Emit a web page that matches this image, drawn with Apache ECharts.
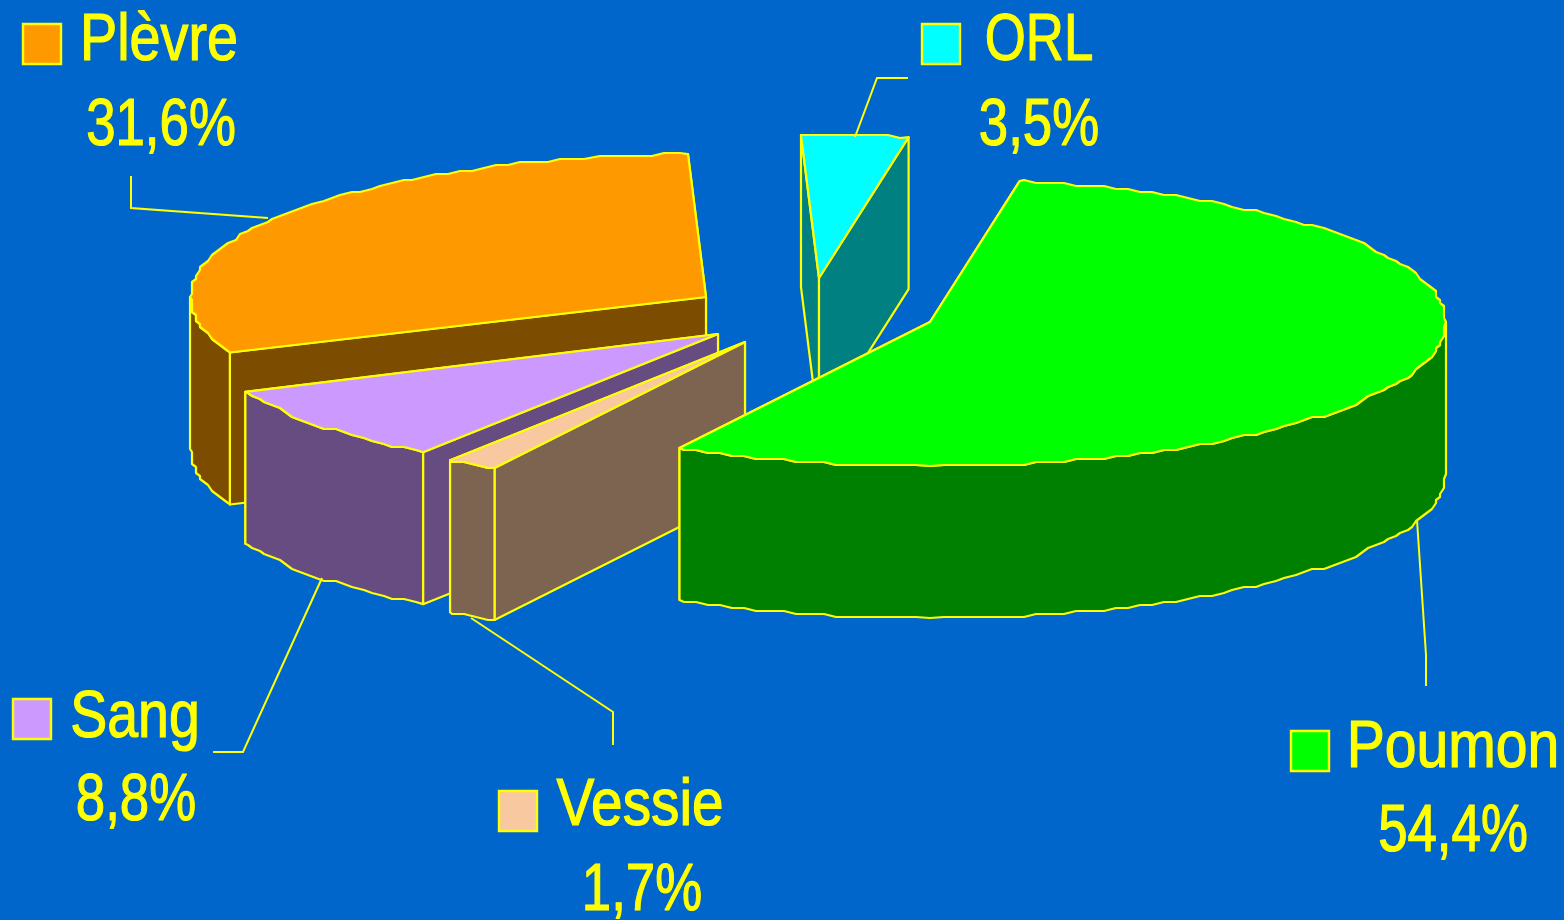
<!DOCTYPE html>
<html><head><meta charset="utf-8">
<style>html,body{margin:0;padding:0;background:#0066CC}#c{width:1564px;height:920px}</style>
<script src="https://cdn.jsdelivr.net/npm/echarts@6/dist/echarts.min.js"></script>
</head><body><div id="c"></div>
<script>
// Data, in clockwise pie order
const categories = ['Poumon','Vessie','Sang','Plèvre','ORL'];
const values = [54.4,1.7,8.8,31.6,3.5];
// Styles
const topColors = ['#00FF00','#F8C8A0','#CC99FF','#FF9900','#00FFFF'];
const sideColors = ['#008000','#7C6450','#664C80','#7C4C00','#008080'];
const lineColor = '#FFFF00';
// Layout: exploded slice apexes, pie projection, drawing order (back to front)
const apexes = [[930,322],[745,342],[718,334],[706,297],[819,278]];
const drawOrder = [3,4,2,1,0];
const radiusX = 516, radiusYFront = 144, radiusYBack = 143, depth = 152, firstAngle = 11;
const rimGrainX = 4, rimGrainY = 3, rimStep = 1.5; // the reference's rim is drawn on a coarse grid
// Small per-slice skew of the reference's drawn edges (degrees): [start,end]
const edgeSkew = [[-1,2.2],[2.2,1.9],[1.9,1.7],[2.7,-0.4],[-0.4,-1]];
// Label layout
const swatches = [[1291,731],[499,791],[13,699],[23,24],[922,24]];
const labelX = [1453,640,135,159,1039];
const pctX = [1453,642,136,161,1039];
const nameY = [749,807,719,42,42];
const pctY = [833,892,802,127,127];
const nameScale = [0.865,0.86,0.84,0.845,0.80];
const pctScale = 0.8;
const leaders = [
  [[1426,686],[1426,655],[1417,520]],
  [[613,745],[613,712],[471,618]],
  [[213,752],[243,752],[322,578]],
  [[131,176],[131,208],[268,218]],
  [[908,78],[877,78],[855,137]]
];
const font = '"Liberation Sans",sans-serif';

const total = values.reduce((a,b)=>a+b,0);
const sliceAngles = []; let run = firstAngle;
values.forEach((v,i)=>{ const e = run + v/total*360;
  sliceAngles.push([run+edgeSkew[i][0], e+edgeSkew[i][1]]); run = e; });

function rim(c,deg){ const t=deg*Math.PI/180, k=Math.cos(t);
  return [c[0]+radiusX*Math.sin(t), c[1]-(k>0?radiusYBack:radiusYFront)*k]; }
// Rim points sit on fixed angles and on a coarse grid, so top and wall rims coincide;
// the left and right extremes stay exact
function arc(c,a,b,dz){ const pts=[rim(c,a)];
  for(let d=Math.ceil(a/rimStep+0.01)*rimStep; d<b; d+=rimStep){ const p=rim(c,d);
    pts.push(d%90===0 ? p : [Math.round(p[0]/rimGrainX)*rimGrainX, Math.round(p[1]/rimGrainY)*rimGrainY]); }
  pts.push(rim(c,b));
  return pts.map(p=>[p[0],p[1]+dz]); }
function poly(points,fill){ return {type:'polygon',shape:{points},
  style:{fill,stroke:lineColor,lineWidth:2.2,lineJoin:'round'}}; }

function renderSlice(params,api){
  const i = api.value(1), c = apexes[i];
  const a = sliceAngles[i][0], b = sliceAngles[i][1];
  const side = sideColors[i], kids = [];
  const wall = p => poly([c,p,[p[0],p[1]+depth],[c[0],c[1]+depth]],side);
  [rim(c,a),rim(c,b)].sort((p,q)=>p[1]-q[1]).forEach(p=>kids.push(wall(p)));
  const fa=Math.max(a,90), fb=Math.min(b,270);
  if(fb>fa){ const top=arc(c,fa,fb,0), bot=arc(c,fa,fb,depth).reverse();
    kids.push(poly(top.concat(bot),side)); }
  kids.push(poly([c].concat(arc(c,a,b,0)),topColors[i]));
  return {type:'group',children:kids};
}
function renderLabel(params,api){
  const i = api.value(1), s = swatches[i], kids = [];
  kids.push({type:'polyline',shape:{points:leaders[i]},style:{fill:'none',stroke:lineColor,lineWidth:2}});
  kids.push({type:'rect',shape:{x:s[0],y:s[1],width:38,height:40},
    style:{fill:topColors[i],stroke:lineColor,lineWidth:2.4}});
  const txt=(t,x,y,sx)=>({type:'text',x,y,scaleX:sx,style:{text:t,x:0,y:0,fill:lineColor,
    stroke:lineColor,lineWidth:1.2,font:'66px '+font,textAlign:'center',textVerticalAlign:'middle'}});
  kids.push(txt(categories[i],labelX[i],nameY[i],nameScale[i]));
  kids.push(txt(api.value(0).toFixed(1).replace('.',',')+'%',pctX[i],pctY[i],pctScale));
  return {type:'group',children:kids};
}
const rows = drawOrder.map(i=>({name:categories[i],value:[values[i],i]}));
const chart = echarts.init(document.getElementById('c'),null,{renderer:'canvas',width:1564,height:920});
chart.setOption({
  backgroundColor:'#0066CC', animation:false, tooltip:{show:false},
  series:[
    {type:'custom',coordinateSystem:'none',silent:true,z:2,renderItem:renderSlice,data:rows,clip:false},
    {type:'custom',coordinateSystem:'none',silent:true,z:3,renderItem:renderLabel,data:rows,clip:false}
  ]
});
</script></body></html>
